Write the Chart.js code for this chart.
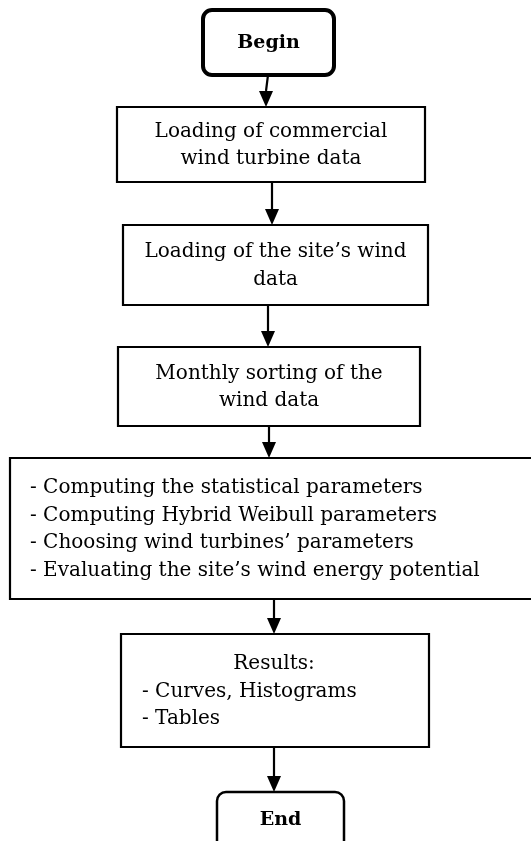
<!DOCTYPE html>
<html>
<head>
<title>Flowchart</title>
<script src="https://cdn.jsdelivr.net/npm/chart.js"></script>
<style>
  html, body { margin: 0; padding: 0; background: #fff; }
  #wrap { width: 531px; height: 841px; }
</style>
</head>
<body>
<div id="wrap"><canvas id="chart"></canvas></div>

<script>
// node texts, top to bottom
const beginText = ['Begin'];
const turbineText = ['Loading of commercial', 'wind turbine data'];
const siteText = ['Loading of the site\u2019s wind', 'data'];
const sortText = ['Monthly sorting of the', 'wind data'];
const computeText = [
  '- Computing the statistical parameters',
  '- Computing Hybrid Weibull parameters',
  '- Choosing wind turbines\u2019 parameters',
  '- Evaluating the site\u2019s wind energy potential'
];
const resultsTitle = ['Results:'];
const resultsText = ['- Curves, Histograms', '- Tables'];
const endText = ['End'];

// layout in chart units (x: 0..531, y: 0..841 downwards)
const layout = [
  { lines: beginText, x0: 203, y0: 10, x1: 334, y1: 75, kind: 'terminal', lw: 4 },
  { lines: turbineText, x0: 117, y0: 107, x1: 425, y1: 182, kind: 'box' },
  { lines: siteText, x0: 123, y0: 225, x1: 428, y1: 305, kind: 'box' },
  { lines: sortText, x0: 118, y0: 347, x1: 420, y1: 426, kind: 'box' },
  { lines: computeText, x0: 10, y0: 458, x1: 540, y1: 599, kind: 'box', align: 'left', textX: 30 },
  { lines: resultsTitle.concat(resultsText), x0: 121, y0: 634, x1: 429, y1: 747, kind: 'box', align: 'mixed', textX: 142, centerX: 274 },
  { lines: endText, x0: 217, y0: 792, x1: 344, y1: 880, kind: 'terminal', lw: 2.5 }
];
const arrows = [
  { xa: 268, ya: 75, xb: 266, yb: 107 },
  { xa: 272, ya: 182, xb: 272, yb: 225 },
  { xa: 268, ya: 305, xb: 268, yb: 347 },
  { xa: 269, ya: 426, xb: 269, yb: 458 },
  { xa: 274, ya: 599, xb: 274, yb: 634 },
  { xa: 274, ya: 747, xb: 274, yb: 792 }
];

const serif = "'DejaVu Serif', 'Liberation Serif', serif";
const lineGap = 27.5;

const flowPlugin = {
  id: 'flow',
  afterDraw(chart) {
    const ctx = chart.ctx;
    const xs = chart.scales.x, ys = chart.scales.y;
    const px = v => xs.getPixelForValue(v);
    const py = v => ys.getPixelForValue(v);
    ctx.save();
    ctx.strokeStyle = '#000';
    ctx.fillStyle = '#000';

    layout.forEach(n => {
      const x0 = px(n.x0), x1 = px(n.x1), y0 = py(n.y0), y1 = py(n.y1);
      ctx.beginPath();
      if (n.kind === 'terminal') {
        ctx.lineWidth = n.lw;
        ctx.roundRect(x0, y0, x1 - x0, y1 - y0, 9);
      } else {
        ctx.lineWidth = 2.2;
        ctx.rect(x0, y0, x1 - x0, y1 - y0);
      }
      ctx.stroke();

      const bold = n.kind === 'terminal';
      ctx.font = (bold ? 'bold 19px ' : '20px ') + serif;
      ctx.textBaseline = 'middle';
      const midY = n.kind === 'terminal' && n.y1 > 841 ? py(820) : (y0 + y1) / 2 + 1;
      const top = midY - (n.lines.length - 1) * lineGap / 2;
      n.lines.forEach((t, i) => {
        const y = top + i * lineGap;
        if (n.align === 'left' || (n.align === 'mixed' && i > 0)) {
          ctx.textAlign = 'left';
          ctx.fillText(t, px(n.textX), y);
        } else if (n.align === 'mixed') {
          ctx.textAlign = 'center';
          ctx.fillText(t, px(n.centerX), y);
        } else {
          ctx.textAlign = 'center';
          ctx.fillText(t, (x0 + x1) / 2, y);
        }
      });
    });

    arrows.forEach(a => {
      const xa = px(a.xa), ya = py(a.ya), xb = px(a.xb), yb = py(a.yb);
      const head = 16, half = 7;
      ctx.lineWidth = 2.2;
      ctx.beginPath();
      ctx.moveTo(xa, ya);
      ctx.lineTo(xb, yb - head);
      ctx.stroke();
      ctx.beginPath();
      ctx.moveTo(xb, yb);
      ctx.lineTo(xb - half, yb - head);
      ctx.lineTo(xb + half, yb - head);
      ctx.closePath();
      ctx.fill();
    });
    ctx.restore();
  }
};

new Chart(document.getElementById('chart'), {
  type: 'scatter',
  data: { datasets: [] },
  options: {
    responsive: true,
    maintainAspectRatio: false,
    animation: false,
    layout: { padding: 0 },
    plugins: { legend: { display: false }, tooltip: { enabled: false } },
    scales: {
      x: { type: 'linear', min: 0, max: 531, display: false },
      y: { type: 'linear', min: 0, max: 841, reverse: true, display: false }
    }
  },
  plugins: [flowPlugin]
});
</script>
</body>
</html>
